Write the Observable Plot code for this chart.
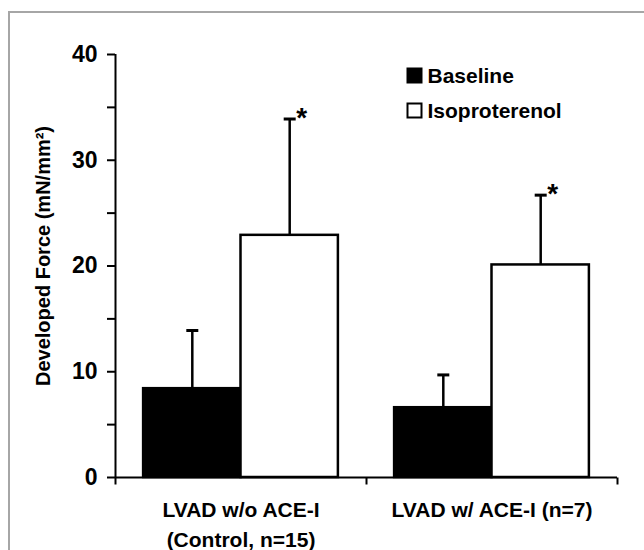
<!DOCTYPE html>
<html><head><meta charset="utf-8">
<script src="https://cdn.jsdelivr.net/npm/d3@7"></script>
<script src="https://cdn.jsdelivr.net/npm/@observablehq/plot@0.6"></script>
<style>
body{margin:0;background:#fff;}
#wrap{position:relative;width:644px;height:550px;overflow:hidden;background:#fff;}
#chart{position:absolute;left:0;top:0;}
#chart svg{font-weight:bold;}
#border{position:absolute;left:8px;top:11px;width:700px;height:600px;border-left:2px solid #a6a6a6;border-top:2px solid #a6a6a6;pointer-events:none;z-index:2;}
</style></head><body>
<div id="wrap"><div id="chart"></div><div id="border"></div></div>
<script>
// ---- data ----
const groups = ["LVAD w/o ACE-I\n(Control, n=15)", "LVAD w/ ACE-I (n=7)"];
const series = ["Baseline", "Isoproterenol"];
const seriesFill = ["black", "white"];
const baselineMean = [8.4, 6.6];
const baselineErr = [5.5, 3.1];
const isoMean = [22.9, 20.1];
const isoErr = [11.0, 6.6];
const isoSignificant = [true, true];
const yTicks = [0, 5, 10, 15, 20, 25, 30, 35, 40];
const yTickLabels = [0, 10, 20, 30, 40];
const yTitle = "Developed Force (mN/mm²)";

// ---- table built from the arrays ----
const pad = 0.112; // outer gap of each group, as a share of the group's band
const means = [baselineMean, isoMean];
const errs = [baselineErr, isoErr];
const rows = [];
groups.forEach((g, i) => {
  series.forEach((s, j) => {
    const x1 = i + (j === 0 ? pad : 0.5);
    const x2 = i + (j === 0 ? 0.5 : 1 - pad);
    rows.push({group: g, series: s, gi: i, si: j, x1, x2, xc: (x1 + x2) / 2,
      mean: means[j][i], top: means[j][i] + errs[j][i],
      sig: j === 1 && isoSignificant[i]});
  });
});
const groupRows = groups.map((g, i) => ({group: g, center: i + 0.5}));
const bounds = d3.range(groups.length + 1);

const capSymbol = {draw(ctx, size) { const r = Math.sqrt(size / Math.PI); ctx.moveTo(-r, 0); ctx.lineTo(r, 0); }};
const tickDown = {draw(ctx, size) { const r = Math.sqrt(size / Math.PI); ctx.moveTo(0, 0); ctx.lineTo(0, r); }};

const plot = Plot.plot({
  width: 644,
  height: 550,
  marginLeft: 115,
  marginRight: 27,
  marginTop: 54,
  marginBottom: 73,
  style: {fontFamily: "'Liberation Sans', Arial, sans-serif", fontSize: "21px", color: "black", background: "transparent"},
  x: {type: "linear", domain: [0, groups.length], axis: null},
  y: {domain: [0, 40], axis: null},
  marks: [
    Plot.rectY(rows, {x1: "x1", x2: "x2", y1: 0, y2: "mean", fill: d => seriesFill[d.si], stroke: "black", strokeWidth: 2.5}),
    Plot.ruleX(rows, {x: "xc", y1: "mean", y2: "top", stroke: "black", strokeWidth: 2.5}),
    Plot.dot(rows, {x: "xc", y: "top", symbol: capSymbol, r: 6, stroke: "black", strokeWidth: 3, fill: "none"}),
    Plot.text(rows.filter(d => d.sig), {x: "xc", y: "top", text: () => "*", dx: 12, dy: -1, fontSize: 28}),
    Plot.ruleY([0], {stroke: "black", strokeWidth: 2}),
    Plot.ruleX([0], {stroke: "black", strokeWidth: 2}),
    Plot.dot(bounds, {x: d => d, y: () => 0, symbol: tickDown, r: 7, stroke: "black", strokeWidth: 2, fill: "none"}),
    Plot.axisY({ticks: yTicks, tickFormat: d => yTickLabels.includes(d) ? String(d) : "", tickSize: 8, tickPadding: 10, strokeWidth: 2, label: null, fontSize: 23}),
    Plot.text([yTitle], {frameAnchor: "left", text: d => d, rotate: -90, textAnchor: "middle", dx: -72, dy: -10, fontSize: 20}),
    Plot.text(groupRows, {x: "center", y: () => 0, text: "group", lineAnchor: "top", dy: 19, lineHeight: 1.4, fontSize: 21}),
    ...series.map((s, i) => Plot.dot([s], {frameAnchor: "top-left", dx: 299, dy: 21 + 35 * i, symbol: "square", r: 7.9, fill: seriesFill[i], stroke: "black", strokeWidth: 2})),
    ...series.map((s, i) => Plot.text([s], {frameAnchor: "top-left", text: d => d, dx: 312, dy: 21.5 + 35 * i, textAnchor: "start", lineAnchor: "middle", fontSize: 21}))
  ]
});
document.getElementById("chart").appendChild(plot);
</script>
</body></html>
